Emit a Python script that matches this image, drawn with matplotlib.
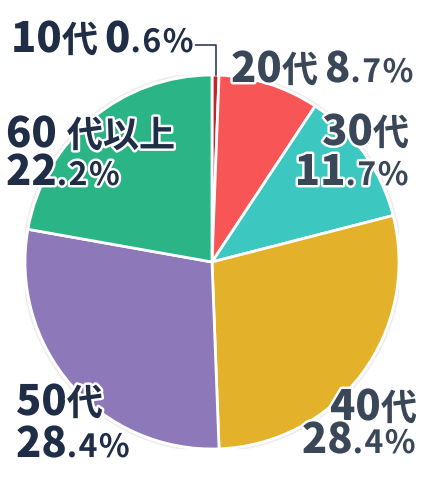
import matplotlib
matplotlib.use("Agg")
import matplotlib.pyplot as plt
import matplotlib.patheffects as pe
from matplotlib.patches import Circle
import numpy as np

plt.rcParams['font.family'] = ['Noto Sans CJK JP', 'DejaVu Sans']

# data
ages = ['10', '20', '30', '40', '50', '60']
age_suffix = ['代', '代', '代', '代', '代', '代以上']
shares = [0.6, 8.7, 11.7, 28.4, 28.4, 22.2]
colors = ['#c3232d', '#f85656', '#3cc7c0', '#e3b22a', '#8d78b9', '#2bb486']

W, H = 424, 480
fig = plt.figure(figsize=(W / 100, H / 100), dpi=100)
cx, cy, r = 212, 262, 187
ax = fig.add_axes([(cx - r) / W, (H - cy - r) / H, 2 * r / W, 2 * r / H])
ax.add_patch(Circle((0, 0), 1.012, fill=False, ec='#ededed', lw=1.2))
ax.pie(shares, colors=colors, startangle=90, counterclock=False, radius=1,
       wedgeprops=dict(edgecolor='white', linewidth=2))
ax.set_xlim(-1, 1)
ax.set_ylim(-1, 1)
ax.axis('off')

renderer = fig.canvas.get_renderer()
stroke = [pe.withStroke(linewidth=3.5, foreground='white')]
BIG, MID, SMALL, TRACK = 30, 26, 23, 1.5


def put_label(x, y, pieces, color, ha='left'):
    # pieces: (text, size, weight, tracking) or a number = extra gap in px
    items = []
    for p in pieces:
        if isinstance(p, (int, float)):
            items.append((None, p))
            continue
        s, size, weight, track = p
        for c in (list(s) if track else [s]):
            t = fig.text(0, 0, c, fontsize=size, fontweight=weight, color=color,
                         va='baseline', path_effects=stroke)
            items.append((t, t.get_window_extent(renderer).width + track))
    total = sum(a for _, a in items)
    x0 = x - total if ha == 'right' else x
    for t, adv in items:
        if t is not None:
            t.set_position((x0 / W, 1 - y / H))
        x0 += adv
    return x0


def age_pieces(i, gap=0):
    out = [(ages[i], BIG, 'heavy', 0)]
    if gap:
        out.append(gap)
    return out + [(age_suffix[i], MID, 'bold', 0)]


def pct_pieces(v):
    whole, frac = f'{v:.1f}'.split('.')
    return [(whole, BIG, 'heavy', 0), ('.' + frac + '%', SMALL, 'bold', TRACK)]


dark = '#1f2d47'
slate = '#3a4759'

# 10代 (one line, with leader)
end_x = put_label(11, 52, age_pieces(0) + [7] + pct_pieces(shares[0]), dark)
# 20代
put_label(231, 82, age_pieces(1) + [7] + pct_pieces(shares[1]), slate)
# 30代
put_label(409, 145, age_pieces(2), slate, ha='right')
put_label(410, 185, pct_pieces(shares[2]), slate, ha='right')
# 40代
put_label(417, 420, age_pieces(3), slate, ha='right')
put_label(417, 453, pct_pieces(shares[3]), slate, ha='right')
# 50代
put_label(16, 415, age_pieces(4), dark)
put_label(16, 457, pct_pieces(shares[4]), dark)
# 60代以上
put_label(6, 147, age_pieces(5, gap=10), dark)
put_label(6, 185, pct_pieces(shares[5]), dark)

# leader line from the 10代 label to the middle of its wedge
mid = np.deg2rad(90 - shares[0] / 2 * 3.6)
wx, wy = np.cos(mid), np.sin(mid)
ly = (cy - 45) / r
lx = (end_x - cx) / r
ax.plot([lx, wx, wx], [ly, ly, wy], color=dark, lw=1.1, clip_on=False)

fig.savefig('out.png', dpi=100)
